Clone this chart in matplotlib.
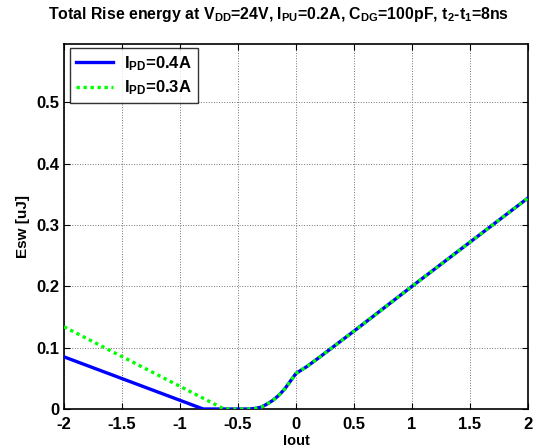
import matplotlib
matplotlib.use("Agg")
import matplotlib.pyplot as plt

plt.rcParams['font.family'] = ['Liberation Sans', 'DejaVu Sans']
plt.rcParams['font.weight'] = 'bold'
plt.rcParams['mathtext.fontset'] = 'custom'
plt.rcParams['mathtext.rm'] = 'Liberation Sans:bold'
plt.rcParams['mathtext.bf'] = 'Liberation Sans:bold'
plt.rcParams['mathtext.it'] = 'Liberation Sans:bold'
plt.rcParams['mathtext.default'] = 'bf'

# Data
iout_common = [-0.4, -0.35, -0.3, -0.25, -0.2, -0.15, -0.1, -0.05, 0.0, 0.05, 0.1, 0.2, 0.5, 1.0, 1.5, 2.0]
esw_common = [0.0, 0.001, 0.003, 0.008, 0.014, 0.022, 0.032, 0.045, 0.058, 0.064, 0.070, 0.084, 0.127, 0.200, 0.272, 0.344]

iout_pd04 = [-2.0, -0.8, -0.6] + iout_common
esw_pd04 = [0.085, 0.0, 0.0] + esw_common
iout_pd03 = [-2.0, -0.62, -0.5] + iout_common
esw_pd03 = [0.134, 0.0, 0.0] + esw_common

labels = [r'I$_{PD}$=0.4A', r'I$_{PD}$=0.3A']
xticks = [-2, -1.5, -1, -0.5, 0, 0.5, 1, 1.5, 2]
xticklabels = ['-2', '-1.5', '-1', '-0.5', '0', '0.5', '1', '1.5', '2']
yticks = [0, 0.1, 0.2, 0.3, 0.4, 0.5]
yticklabels = ['0', '0.1', '0.2', '0.3', '0.4', '0.5']

fig = plt.figure(figsize=(5.44, 4.48), dpi=100)
ax = fig.add_axes([64/544, 1-409/448, (528-64)/544, (409-44)/448])

ax.plot(iout_pd04, esw_pd04, color='#0000ff', lw=2.4, label=labels[0], zorder=3)
ax.plot(iout_pd03, esw_pd03, color='#00ff00', lw=2.4, linestyle=(0, (1, 1.1)),
        dash_capstyle='butt', label=labels[1], zorder=4)

ax.set_xlim(-2, 2)
ax.set_ylim(0, 0.595)
ax.set_xticks(xticks)
ax.set_xticklabels(xticklabels, fontsize=12, fontweight='bold')
ax.set_yticks(yticks)
ax.set_yticklabels(yticklabels, fontsize=12, fontweight='bold')
ax.tick_params(direction='in', top=True, right=True, length=4, width=0.8)
ax.tick_params(axis='x', pad=6)
ax.tick_params(axis='y', pad=3)
ax.grid(True, color='0.45', linestyle=':', linewidth=0.7)
for s in ax.spines.values():
    s.set_linewidth(1.2)

ax.set_xlabel('Iout', fontsize=10.5, fontweight='bold', labelpad=1)
ax.set_ylabel('Esw [uJ]', fontsize=11, fontweight='bold', labelpad=5)

fig.text(279/544, 1-15/448,
         r'Total Rise energy at V$_{DD}$=24V, I$_{PU}$=0.2A, C$_{DG}$=100pF, t$_2$-t$_1$=8ns',
         ha='center', va='center', fontsize=11.4, fontweight='bold')

leg = ax.legend(loc='upper left', bbox_to_anchor=(6/464, 1-4/365), fontsize=12,
                frameon=True, fancybox=False, edgecolor='k', handlelength=2.2,
                borderaxespad=0, labelspacing=0.35, handletextpad=0.7, borderpad=0.35)
leg.get_frame().set_linewidth(1.0)

fig.savefig('out.png', dpi=100)
